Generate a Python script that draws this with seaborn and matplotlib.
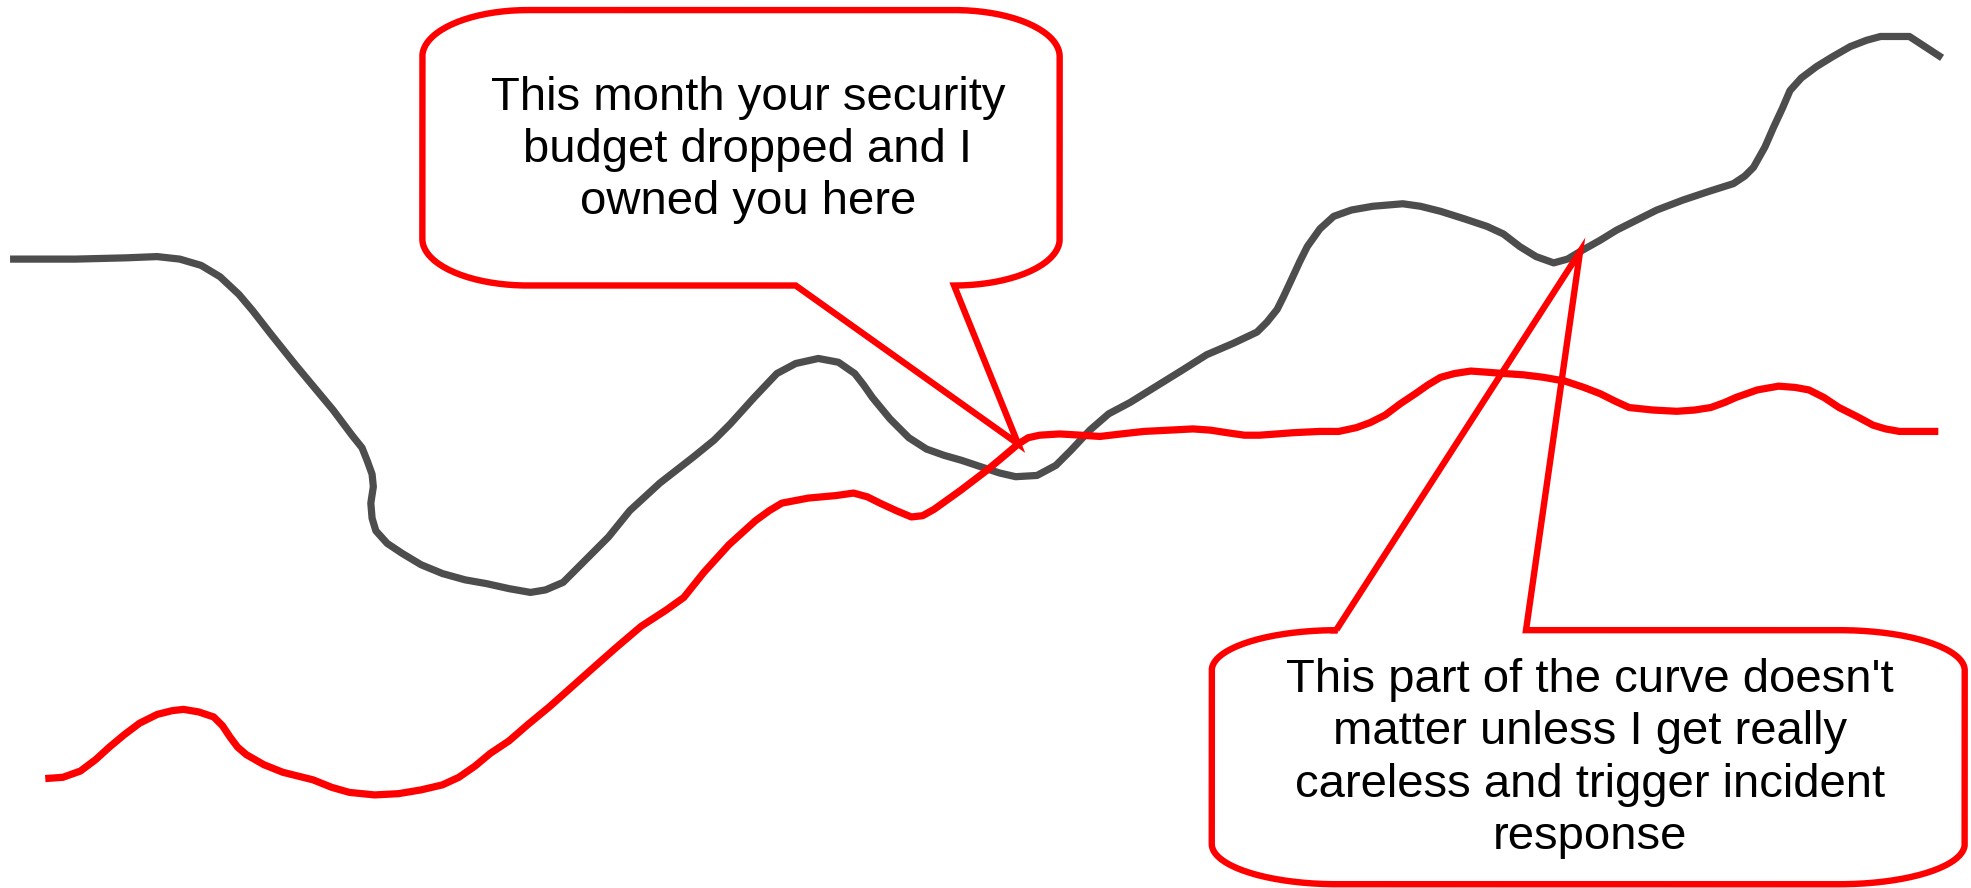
import numpy as np
import matplotlib
matplotlib.use('Agg')
import matplotlib.pyplot as plt
from matplotlib.path import Path
from matplotlib.patches import PathPatch
import seaborn as sns

# curve points (picture units, y grows downward)
gray_x = [8, 60, 100, 125, 143, 160, 175, 190, 201, 215, 235, 250, 265, 280, 288, 292, 296, 297, 295,
          296, 299, 308, 320, 335, 352, 370, 387, 405, 422, 434, 448, 465, 484, 501, 525, 552, 568,
          581, 600, 618, 633, 651, 667, 680, 687, 694, 708, 723, 737, 751, 765, 780, 795, 808, 825,
          840, 852, 867, 882, 899, 920, 941, 960, 981, 1000, 1008, 1016, 1021, 1028, 1034, 1040,
          1050, 1061, 1075, 1092, 1116, 1130, 1146, 1165, 1183, 1196, 1209, 1222, 1236, 1247, 1257,
          1273, 1286, 1300, 1318, 1339, 1360, 1379, 1388, 1395, 1404, 1411, 1418, 1424, 1433, 1445,
          1458, 1472, 1485, 1496, 1519, 1545]
gray_y = [206, 206, 205, 204, 206, 211, 220, 234, 247, 265, 290, 308, 326, 346, 356, 366, 377, 387, 400,
          412, 422, 432, 440, 449, 456, 461, 464, 468, 471, 469, 463, 446, 427, 406, 384, 363, 350,
          337, 316, 297, 289, 285, 288, 297, 306, 316, 333, 348, 357, 362, 366, 371, 376, 379, 378,
          370, 358, 342, 329, 320, 307, 294, 282, 273, 264, 256, 246, 236, 221, 208, 196,
          182, 172, 167, 164, 162, 164, 168, 174, 180, 186, 196, 204, 209, 206, 200,
          191, 183, 176, 167, 159, 152, 146, 140, 133, 117, 101, 86, 72, 62, 53,
          45, 37, 32, 29, 29, 46]

red_x = [36, 50, 64, 76, 87, 99, 111, 125, 137, 146, 158, 170, 177, 183, 189, 196, 210, 225, 237,
         249, 264, 278, 298, 317, 335, 352, 365, 378, 390, 405, 420, 437, 455, 473, 490,
         510, 530, 544, 560, 580, 601, 612, 622, 643, 665, 679, 690, 700, 713, 725, 734, 743, 764,
         785, 797, 810, 818, 827, 843, 860, 875, 892, 910, 930, 949, 963, 976, 990, 1002, 1016,
         1029, 1050, 1065, 1079, 1090, 1102, 1114, 1126, 1136, 1146, 1157, 1170, 1184, 1197, 1212,
         1228, 1245, 1260, 1273, 1285, 1296, 1315, 1334, 1348, 1361, 1372, 1381, 1398, 1415, 1428,
         1439, 1451, 1463, 1477, 1490, 1500, 1511, 1542]
red_y = [619, 618, 613, 604, 594, 584, 575, 568, 565, 564, 566, 570, 577, 586, 594, 600, 608, 614, 617,
         620, 626, 630, 632, 631, 628, 624, 618, 609, 599, 589, 576, 562, 546, 530, 515,
         498, 485, 475, 455, 433, 414, 406, 400, 396, 394, 392, 395, 400, 406, 411, 410, 405, 390,
         374, 364, 353, 348, 346, 345, 346, 347, 345, 343, 342, 341, 342, 344, 346, 346, 345,
         344, 343, 343, 340, 336, 330, 321, 313, 306, 300, 297, 295, 296, 297, 298,
         300, 303, 308, 313, 319, 324, 326, 327, 326, 324, 320, 316, 310, 307, 308,
         310, 316, 324, 331, 338, 341, 343, 343]

note_top = "This month your security\nbudget dropped and I\nowned you here"
note_bottom = "This part of the curve doesn't\nmatter unless I get really\ncareless and trigger incident\nresponse"

sns.set_style('white')
plt.rcParams['font.family'] = ['Liberation Sans', 'DejaVu Sans']

fig = plt.figure(figsize=(19.71, 8.88), dpi=100)
ax = fig.add_axes([0, 0, 1, 1])

sns.lineplot(x=gray_x, y=gray_y, sort=False, estimator=None, color='#4d4d4d', lw=5.2, ax=ax,
             solid_capstyle='butt', solid_joinstyle='round')
sns.lineplot(x=red_x, y=red_y, sort=False, estimator=None, color='#ff0000', lw=5.2, ax=ax,
             solid_capstyle='butt', solid_joinstyle='round')


def arc(cx, cy, rx, ry, a0, a1, n=40):
    t = np.radians(np.linspace(a0, a1, n))
    return list(zip(cx + rx * np.cos(t), cy + ry * np.sin(t)))


def bubble(x0, x1, y0, y1, rx, ry, tail_edge, base_a, base_b, tip):
    pts = [(x0 + rx, y0)]
    if tail_edge == 'top':
        pts += [(base_a, y0), tip, (base_b, y0)]
    pts += [(x1 - rx, y0)]
    pts += arc(x1 - rx, y0 + ry, rx, ry, -90, 0)
    pts += arc(x1 - rx, y1 - ry, rx, ry, 0, 90)
    if tail_edge == 'bottom':
        pts += [(base_b, y1), tip, (base_a, y1)]
    pts += arc(x0 + rx, y1 - ry, rx, ry, 90, 180)
    pts += arc(x0 + rx, y0 + ry, rx, ry, 180, 270)
    codes = [Path.MOVETO] + [Path.LINETO] * (len(pts) - 1)
    return PathPatch(Path(pts, codes), fill=False, edgecolor='#ff0000', lw=4.6,
                     joinstyle='miter', zorder=5)


# callouts point at a point on each curve
i_red = red_x.index(810)
i_gray = gray_x.index(1257)
ax.add_patch(bubble(336, 843, 8, 227, 84, 37, 'bottom', 633, 759,
                    (red_x[i_red], red_y[i_red])))
ax.add_patch(bubble(964, 1563, 501, 703, 100, 32, 'top', 1063, 1214,
                    (gray_x[i_gray], gray_y[i_gray])))

ax.text(595, 119, note_top, ha='center', va='center', multialignment='center',
        fontsize=34, color='black', linespacing=1.24, zorder=6)
ax.text(1265, 603, note_bottom, ha='center', va='center', multialignment='center',
        fontsize=34, color='black', linespacing=1.24, zorder=6)

ax.set_xlim(0, 1568)
ax.set_ylim(706, 0)
ax.set_axis_off()

plt.savefig('out.png', dpi=100)
plt.close()
